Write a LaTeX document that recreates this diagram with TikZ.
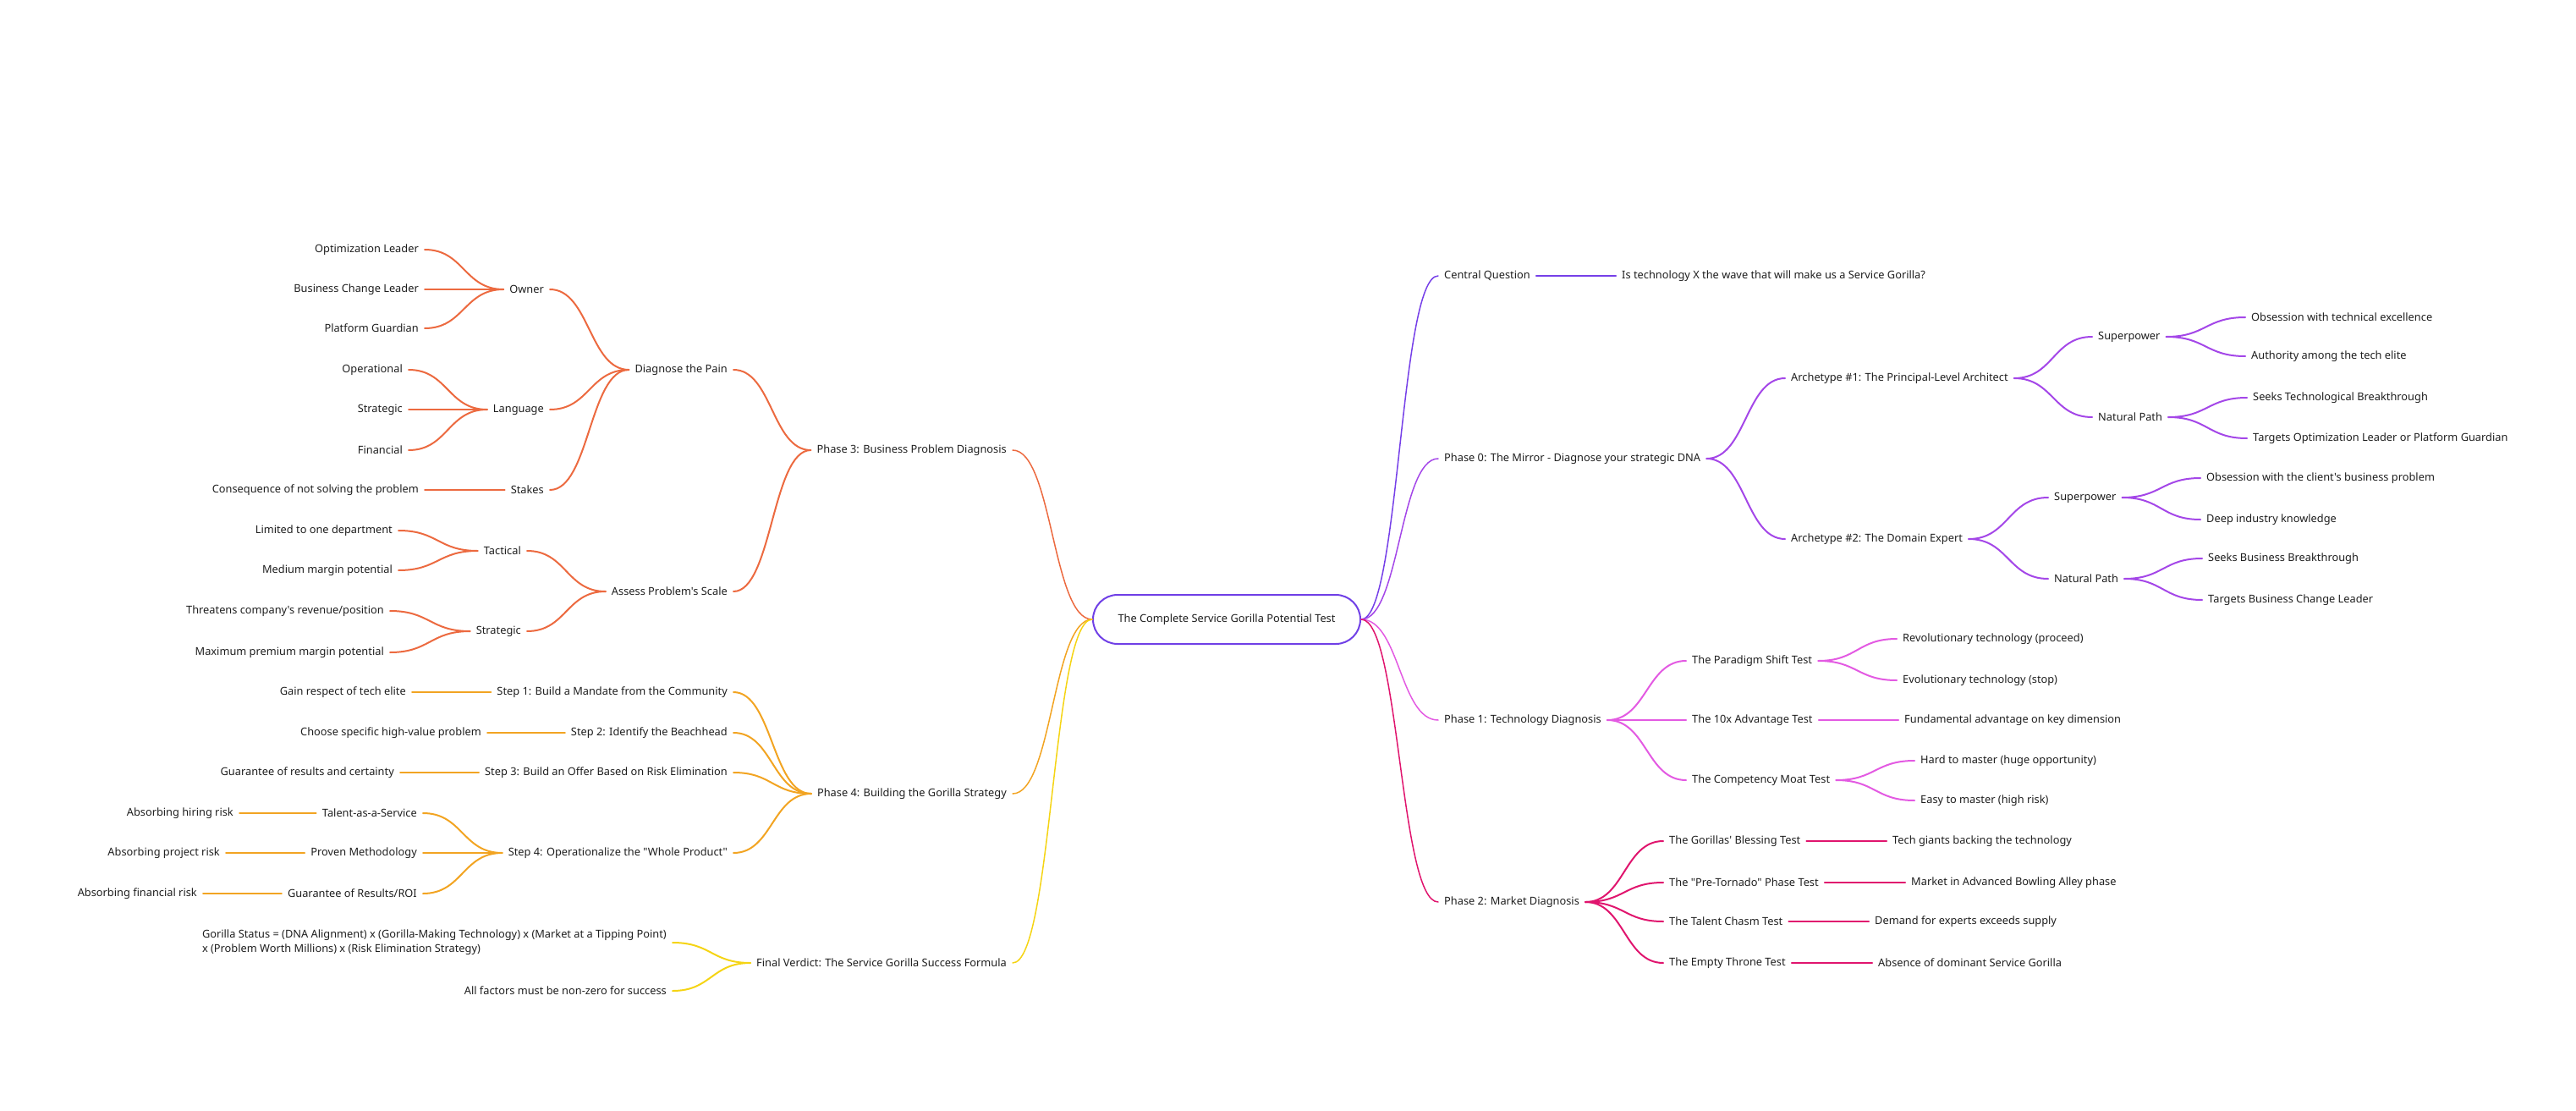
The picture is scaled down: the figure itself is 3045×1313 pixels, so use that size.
\documentclass[tikz,border=0pt]{standalone}
\usepackage{fontspec}
\setmainfont{Noto Sans}[Ligatures=TeXOff]
\usetikzlibrary{calc}

\definecolor{txt}{HTML}{1E1E1E}
\definecolor{rootc}{HTML}{7040E6}
\definecolor{cqc}{HTML}{7640E8}
\definecolor{ph0c}{HTML}{A447E8}
\definecolor{ph1c}{HTML}{E35AE2}
\definecolor{ph2c}{HTML}{E0156E}
\definecolor{ph3c}{HTML}{EC6A40}
\definecolor{ph4c}{HTML}{F2A422}
\definecolor{fvc}{HTML}{F5D414}

\begin{document}
\begin{tikzpicture}[
    x=1pt, y=-1pt,
    font=\fontsize{12.8}{17}\selectfont,
    rt/.style={anchor=west, inner xsep=7pt, inner ysep=2pt, text=txt},
    lf/.style={anchor=east, inner xsep=7pt, inner ysep=2pt, text=txt},
    rootbox/.style={draw=rootc, line width=2pt, rounded corners=29pt, minimum width=316pt, minimum height=58pt, text=txt},
    link/.style={to path={let \p1=(\tikztostart), \p2=(\tikztotarget) in
        .. controls ({(\x1+\x2)/2},\y1) and ({(\x1+\x2)/2},\y2) .. (\tikztotarget)}},
    trunk/.style={line width=1.5pt, line cap=round},
    edge/.style={line width=2pt, line cap=round}
]
\useasboundingbox (0,0) rectangle (3045,1313);

% Root
\node[rootbox] (root) at (1450,732) {The Complete Service Gorilla Potential Test};

% Central question
\node[rt] (cq) at (1700,326) {Central Question};
\node[rt] (cqa) at (1910,326) {Is technology X the wave that will make us a Service Gorilla?};
\draw[trunk,cqc] (root.east) to[link] (cq.west);
\draw[edge,cqc] (cq.east) -- (cqa.west);

% Phase 0
\node[rt] (p0) at (1700,542) {Phase 0: The Mirror - Diagnose your strategic DNA};
\node[rt] (a1) at (2110,447) {Archetype \#1: The Principal-Level Architect};
\node[rt] (a1s) at (2473,398) {Superpower};
\node[rt] (a1s1) at (2654,375) {Obsession with technical excellence};
\node[rt] (a1s2) at (2654,421) {Authority among the tech elite};
\node[rt] (a1n) at (2473,493) {Natural Path};
\node[rt] (a1n1) at (2656,470) {Seeks Technological Breakthrough};
\node[rt] (a1n2) at (2656,518) {Targets Optimization Leader or Platform Guardian};
\node[rt] (a2) at (2110,637) {Archetype \#2: The Domain Expert};
\node[rt] (a2s) at (2421,588) {Superpower};
\node[rt] (a2s1) at (2601,565) {Obsession with the client's business problem};
\node[rt] (a2s2) at (2601,614) {Deep industry knowledge};
\node[rt] (a2n) at (2421,684) {Natural Path};
\node[rt] (a2n1) at (2603,660) {Seeks Business Breakthrough};
\node[rt] (a2n2) at (2603,709) {Targets Business Change Leader};

\draw[trunk,ph0c] (root.east) to[link] (p0.west);
\draw[edge,ph0c] (p0.east) to[link] (a1.west);
\draw[edge,ph0c] (p0.east) to[link] (a2.west);
\draw[edge,ph0c] (a1.east) to[link] (a1s.west);
\draw[edge,ph0c] (a1.east) to[link] (a1n.west);
\draw[edge,ph0c] (a1s.east) to[link] (a1s1.west);
\draw[edge,ph0c] (a1s.east) to[link] (a1s2.west);
\draw[edge,ph0c] (a1n.east) to[link] (a1n1.west);
\draw[edge,ph0c] (a1n.east) to[link] (a1n2.west);
\draw[edge,ph0c] (a2.east) to[link] (a2s.west);
\draw[edge,ph0c] (a2.east) to[link] (a2n.west);
\draw[edge,ph0c] (a2s.east) to[link] (a2s1.west);
\draw[edge,ph0c] (a2s.east) to[link] (a2s2.west);
\draw[edge,ph0c] (a2n.east) to[link] (a2n1.west);
\draw[edge,ph0c] (a2n.east) to[link] (a2n2.west);

% Phase 1
\node[rt] (p1) at (1700,851) {Phase 1: Technology Diagnosis};
\node[rt] (t1) at (1993,781) {The Paradigm Shift Test};
\node[rt] (t1a) at (2242,755) {Revolutionary technology (proceed)};
\node[rt] (t1b) at (2242,804) {Evolutionary technology (stop)};
\node[rt] (t2) at (1993,851) {The 10x Advantage Test};
\node[rt] (t2a) at (2244,851) {Fundamental advantage on key dimension};
\node[rt] (t3) at (1993,922) {The Competency Moat Test};
\node[rt] (t3a) at (2263,899) {Hard to master (huge opportunity)};
\node[rt] (t3b) at (2263,946) {Easy to master (high risk)};

\draw[trunk,ph1c] (root.east) to[link] (p1.west);
\draw[edge,ph1c] (p1.east) to[link] (t1.west);
\draw[edge,ph1c] (p1.east) -- (t2.west);
\draw[edge,ph1c] (p1.east) to[link] (t3.west);
\draw[edge,ph1c] (t1.east) to[link] (t1a.west);
\draw[edge,ph1c] (t1.east) to[link] (t1b.west);
\draw[edge,ph1c] (t2.east) -- (t2a.west);
\draw[edge,ph1c] (t3.east) to[link] (t3a.west);
\draw[edge,ph1c] (t3.east) to[link] (t3b.west);

% Phase 2
\node[rt] (p2) at (1700,1066) {Phase 2: Market Diagnosis};
\node[rt] (m1) at (1966,994) {The Gorillas' Blessing Test};
\node[rt] (m1a) at (2230,994) {Tech giants backing the technology};
\node[rt] (m2) at (1966,1043) {The "Pre-Tornado" Phase Test};
\node[rt] (m2a) at (2252,1043) {Market in Advanced Bowling Alley phase};
\node[rt] (m3) at (1966,1089) {The Talent Chasm Test};
\node[rt] (m3a) at (2209,1089) {Demand for experts exceeds supply};
\node[rt] (m4) at (1966,1138) {The Empty Throne Test};
\node[rt] (m4a) at (2213,1138) {Absence of dominant Service Gorilla};

\draw[trunk,ph2c] (root.east) to[link] (p2.west);
\foreach \m in {m1,m2,m3,m4}{
  \draw[edge,ph2c] (p2.east) to[link] (\m.west);
  \draw[edge,ph2c] (\m.east) -- (\m a.west);
}

% Phase 3
\node[lf] (p3) at (1197,532) {Phase 3: Business Problem Diagnosis};
\node[lf] (pain) at (867,437) {Diagnose the Pain};
\node[lf] (own) at (650,342) {Owner};
\node[lf] (own1) at (502,295) {Optimization Leader};
\node[lf] (own2) at (502,342) {Business Change Leader};
\node[lf] (own3) at (502,388) {Platform Guardian};
\node[lf] (lang) at (650,484) {Language};
\node[lf] (lang1) at (483,437) {Operational};
\node[lf] (lang2) at (483,484) {Strategic};
\node[lf] (lang3) at (483,532) {Financial};
\node[lf] (stk) at (650,579) {Stakes};
\node[lf] (stk1) at (502,579) {Consequence of not solving the problem};
\node[lf] (scale) at (867,699) {Assess Problem's Scale};
\node[lf] (tac) at (623,651) {Tactical};
\node[lf] (tac1) at (471,627) {Limited to one department};
\node[lf] (tac2) at (471,674) {Medium margin potential};
\node[lf] (str) at (623,746) {Strategic};
\node[lf] (str1) at (461,722) {Threatens company's revenue/position};
\node[lf] (str2) at (461,771) {Maximum premium margin potential};

\draw[trunk,ph3c] (root.west) to[link] (p3.east);
\draw[edge,ph3c] (p3.west) to[link] (pain.east);
\draw[edge,ph3c] (p3.west) to[link] (scale.east);
\draw[edge,ph3c] (pain.west) to[link] (own.east);
\draw[edge,ph3c] (pain.west) to[link] (lang.east);
\draw[edge,ph3c] (pain.west) to[link] (stk.east);
\foreach \c in {own1,own3}
  \draw[edge,ph3c] (own.west) to[link] (\c.east);
\draw[edge,ph3c] (own.west) -- (own2.east);
\foreach \c in {lang1,lang3}
  \draw[edge,ph3c] (lang.west) to[link] (\c.east);
\draw[edge,ph3c] (lang.west) -- (lang2.east);
\draw[edge,ph3c] (stk.west) -- (stk1.east);
\draw[edge,ph3c] (scale.west) to[link] (tac.east);
\draw[edge,ph3c] (scale.west) to[link] (str.east);
\draw[edge,ph3c] (tac.west) to[link] (tac1.east);
\draw[edge,ph3c] (tac.west) to[link] (tac2.east);
\draw[edge,ph3c] (str.west) to[link] (str1.east);
\draw[edge,ph3c] (str.west) to[link] (str2.east);

% Phase 4
\node[lf] (p4) at (1197,938) {Phase 4: Building the Gorilla Strategy};
\node[lf] (s1) at (867,818) {Step 1: Build a Mandate from the Community};
\node[lf] (s1a) at (487,818) {Gain respect of tech elite};
\node[lf] (s2) at (867,866) {Step 2: Identify the Beachhead};
\node[lf] (s2a) at (576,866) {Choose specific high-value problem};
\node[lf] (s3) at (867,913) {Step 3: Build an Offer Based on Risk Elimination};
\node[lf] (s3a) at (473,913) {Guarantee of results and certainty};
\node[lf] (s4) at (867,1008) {Step 4: Operationalize the "Whole Product"};
\node[lf] (w1) at (500,961) {Talent-as-a-Service};
\node[lf] (w1a) at (283,961) {Absorbing hiring risk};
\node[lf] (w2) at (500,1008) {Proven Methodology};
\node[lf] (w2a) at (267,1008) {Absorbing project risk};
\node[lf] (w3) at (500,1056) {Guarantee of Results/ROI};
\node[lf] (w3a) at (240,1056) {Absorbing financial risk};

\draw[trunk,ph4c] (root.west) to[link] (p4.east);
\foreach \s in {s1,s2,s3,s4}
  \draw[edge,ph4c] (p4.west) to[link] (\s.east);
\foreach \s in {s1,s2,s3}
  \draw[edge,ph4c] (\s.west) -- (\s a.east);
\draw[edge,ph4c] (s4.west) to[link] (w1.east);
\draw[edge,ph4c] (s4.west) -- (w2.east);
\draw[edge,ph4c] (s4.west) to[link] (w3.east);
\foreach \w in {w1,w2,w3}
  \draw[edge,ph4c] (\w.west) -- (\w a.east);

% Final verdict
\node[lf] (fv) at (1197,1138) {Final Verdict: The Service Gorilla Success Formula};
\node[lf, align=left] (fml) at (795,1114) {Gorilla Status = (DNA Alignment) x (Gorilla-Making Technology) x (Market at a Tipping Point)\\x (Problem Worth Millions) x (Risk Elimination Strategy)};
\node[lf] (nz) at (795,1171) {All factors must be non-zero for success};

\draw[trunk,fvc] (root.west) to[link] (fv.east);
\draw[edge,fvc] (fv.west) to[link] (fml.east);
\draw[edge,fvc] (fv.west) to[link] (nz.east);

\end{tikzpicture}
\end{document}
